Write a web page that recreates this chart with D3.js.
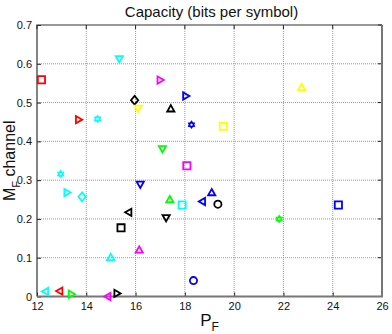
<!DOCTYPE html>
<html><head><meta charset="utf-8">
<script src="https://cdn.jsdelivr.net/npm/d3@7"></script>
<style>body{margin:0;background:#fff}text{font-family:Arial,"Liberation Sans",sans-serif}</style>
</head><body><svg id="c" width="392" height="334"></svg>
<script>
const xTicks=[12,14,16,18,20,22,24,26];
const yTicks=[0,0.1,0.2,0.3,0.4,0.5,0.6,0.7];
const pf=[12.18,15.34,15.96,16.10,17.00,18.04,17.43,22.74,13.69,14.46,18.27,19.56,17.09,12.96,13.22,13.83,16.19,15.72,15.41,14.99,16.15,12.34,12.92,13.40,14.87,15.25,18.08,17.39,17.89,18.71,19.09,19.34,17.24,18.35,21.83,24.23];
const mf=[0.559,0.613,0.506,0.485,0.558,0.517,0.484,0.539,0.456,0.458,0.443,0.439,0.381,0.316,0.268,0.257,0.289,0.217,0.177,0.101,0.120,0.013,0.014,0.006,0.000,0.008,0.337,0.250,0.236,0.245,0.268,0.238,0.203,0.041,0.200,0.236];
const markers=["s","v","d","v",">",">","^","^",">","h","h","s","v","h",">","d","v","<","s","^","^","<","<",">","<",">","s","^","s","<","^","o","v","o","h","s"];
const colors=["r","c","k","y","m","b","k","y","r","c","b","y","g","c","c","c","b","k","k","c","m","c","r","g","m","k","m","g","c","b","b","k","k","b","g","b"];
const cmap={r:"#ff0000",g:"#00ff00",b:"#0000ff",c:"#00ffff",m:"#ff00ff",y:"#ffff00",k:"#000000"};

const svg=d3.select("#c");
const L=37,R=382,T=25,B=296.5;
const x=d3.scaleLinear().domain([12,26]).range([L,R]);
const y=d3.scaleLinear().domain([0,0.7]).range([B,T]);

// grid
svg.append("g").selectAll("line").data(xTicks.slice(1,-1)).join("line")
 .attr("x1",d=>x(d)).attr("x2",d=>x(d)).attr("y1",T).attr("y2",B)
 .attr("stroke","#999").attr("stroke-width",1).attr("stroke-dasharray","1,1");
svg.append("g").selectAll("line").data(yTicks.slice(1,-1)).join("line")
 .attr("y1",d=>y(d)).attr("y2",d=>y(d)).attr("x1",L).attr("x2",R)
 .attr("stroke","#999").attr("stroke-width",1).attr("stroke-dasharray","1,1");

// axes
const xa=svg.append("g").attr("transform",`translate(0,${B})`)
 .call(d3.axisBottom(x).tickValues(xTicks).tickSize(-4).tickPadding(6).tickFormat(d3.format("d")));
const ya=svg.append("g").attr("transform",`translate(${L},0)`)
 .call(d3.axisLeft(y).tickValues(yTicks).tickSize(-4).tickPadding(5).tickFormat(d=>d===0?"0":d3.format(".1f")(d)));
[xa,ya].forEach(a=>{a.select(".domain").remove();a.selectAll("line").attr("stroke","#222");a.selectAll("text").attr("font-size",11).attr("fill","#111").attr("font-family","Arial, Liberation Sans, sans-serif");});
// top/right ticks
svg.append("g").selectAll("line").data(xTicks).join("line").attr("x1",d=>x(d)).attr("x2",d=>x(d)).attr("y1",T).attr("y2",T+4).attr("stroke","#222");
svg.append("g").selectAll("line").data(yTicks).join("line").attr("y1",d=>y(d)).attr("y2",d=>y(d)).attr("x1",R).attr("x2",R-4).attr("stroke","#222");
// box
svg.append("path").attr("d",`M${L},${B}V${T}H${R}`).attr("fill","none").attr("stroke","#333").attr("stroke-width",1.2);
svg.append("path").attr("d",`M${L},${B}H${R}V${T}`).attr("fill","none").attr("stroke","#777").attr("stroke-width",2);

// markers
function mpath(m){
 const s=3.6;
 switch(m){
  case "s":return `M${-s},${-s}H${s}V${s}H${-s}Z`;
  case "d":return `M0,${-s-0.8}L${s},0L0,${s+0.8}L${-s},0Z`;
  case "^":return `M0,${-s}L${s},${s*0.75}L${-s},${s*0.75}Z`;
  case "v":return `M0,${s}L${s},${-s*0.75}L${-s},${-s*0.75}Z`;
  case ">":return `M${s},0L${-s*0.75},${s}L${-s*0.75},${-s}Z`;
  case "<":return `M${-s},0L${s*0.75},${s}L${s*0.75},${-s}Z`;
  case "o":return d3.arc()({innerRadius:0,outerRadius:s,startAngle:0,endAngle:2*Math.PI})+"Z";
  case "h":{let p=[];for(let i=0;i<12;i++){const r=i%2?1.9:2.9;const a=i*Math.PI/6-Math.PI/2;p.push([r*Math.cos(a),r*Math.sin(a)]);}return "M"+p.map(q=>q.join(",")).join("L")+"Z";}
 }
}
svg.append("g").selectAll("path").data(pf.map((v,i)=>i)).join("path")
 .attr("transform",i=>`translate(${x(pf[i])},${y(mf[i])})`)
 .attr("d",i=>mpath(markers[i]))
 .attr("fill","none").attr("stroke",i=>cmap[colors[i]]).attr("stroke-width",1.8);

// title & labels
svg.append("text").attr("x",(L+R)/2+2).attr("y",17).attr("text-anchor","middle").attr("font-size",15).attr("fill","#111").text("Capacity (bits per symbol)");
const xl=svg.append("text").attr("x",(L+R)/2).attr("y",326).attr("text-anchor","middle").attr("font-size",17).attr("fill","#111");
xl.append("tspan").text("P");xl.append("tspan").attr("font-size",12).attr("dy",5).text("F");
const yl=svg.append("text").attr("transform",`translate(15,${(T+B)/2}) rotate(-90)`).attr("text-anchor","middle").attr("font-size",16).attr("fill","#111");
yl.append("tspan").text("M");yl.append("tspan").attr("font-size",11).attr("dy",5).text("F");yl.append("tspan").attr("dy",-5).text(" channel");
</script></body></html>
